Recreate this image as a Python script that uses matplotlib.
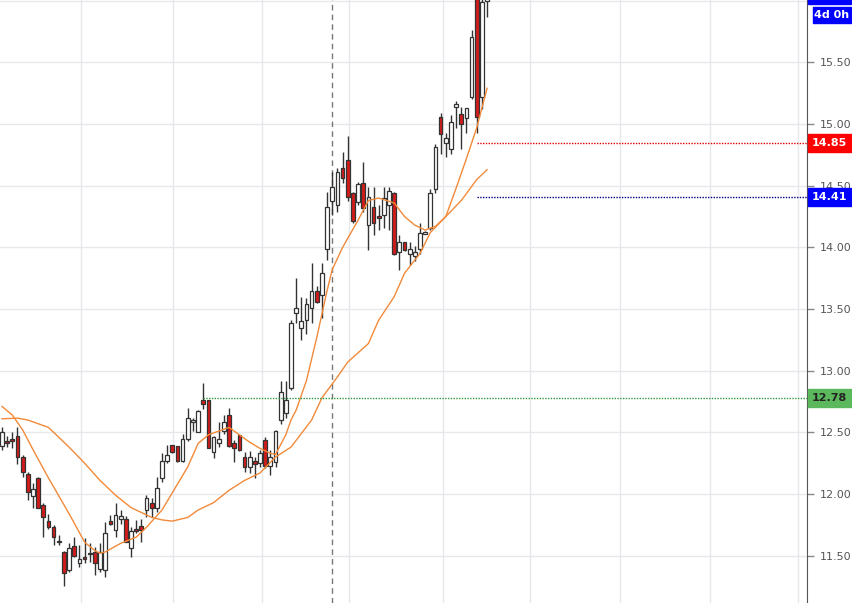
import matplotlib
matplotlib.use("Agg")
import matplotlib.pyplot as plt
from matplotlib.patches import Rectangle
from matplotlib.transforms import blended_transform_factory

# daily candles, oldest first
opens = [12.39, 12.43, 12.44, 12.47, 12.30, 12.16, 11.98, 12.13, 11.91, 11.78,
         11.73, 11.62, 11.53, 11.38, 11.58, 11.44, 11.49, 11.52, 11.53, 11.39,
         11.38, 11.78, 11.71, 11.80, 11.80, 11.56, 11.72, 11.74, 11.87, 11.93,
         11.89, 12.13, 12.27, 12.40, 12.39, 12.27, 12.45, 12.58, 12.50, 12.76,
         12.76, 12.34, 12.41, 12.51, 12.64, 12.41, 12.48, 12.30, 12.22, 12.27,
         12.25, 12.44, 12.23, 12.26, 12.60, 12.66, 12.86, 13.47, 13.35, 13.41,
         13.51, 13.65, 13.61, 13.99, 14.38, 14.34, 14.64, 14.71, 14.44, 14.37,
         14.52, 14.18, 14.33, 14.25, 14.26, 14.34, 14.44, 13.96, 14.04, 13.95,
         13.93, 13.99, 14.11, 14.16, 14.47, 15.06, 14.85, 14.80, 15.14, 15.08,
         15.05, 15.22, 16.15, 15.22, 16.00]
highs = [12.54, 12.47, 12.50, 12.54, 12.32, 12.18, 12.09, 12.14, 11.93, 11.84,
         11.75, 11.67, 11.54, 11.60, 11.65, 11.59, 11.64, 11.60, 11.57, 11.60,
         11.77, 11.83, 11.93, 11.87, 11.82, 11.73, 11.79, 11.80, 11.99, 11.97,
         12.14, 12.33, 12.40, 12.40, 12.39, 12.49, 12.70, 12.62, 12.68, 12.90,
         12.76, 12.47, 12.58, 12.64, 12.70, 12.44, 12.48, 12.34, 12.35, 12.30,
         12.36, 12.46, 12.36, 12.52, 12.92, 12.92, 13.41, 13.75, 13.60, 13.59,
         13.87, 13.69, 13.87, 14.45, 14.61, 14.64, 14.77, 14.90, 14.45, 14.53,
         14.69, 14.49, 14.49, 14.34, 14.49, 14.49, 14.45, 14.10, 14.04, 14.04,
         14.01, 14.20, 14.13, 14.47, 14.84, 15.09, 14.93, 15.07, 15.19, 15.14,
         15.13, 15.76, 16.20, 16.10, 16.30]
lows = [12.36, 12.38, 12.37, 12.24, 12.14, 11.95, 11.89, 11.89, 11.65, 11.72,
        11.59, 11.59, 11.25, 11.37, 11.49, 11.41, 11.44, 11.45, 11.34, 11.37,
        11.33, 11.75, 11.65, 11.76, 11.61, 11.49, 11.68, 11.61, 11.81, 11.81,
        11.85, 12.10, 12.25, 12.33, 12.26, 12.26, 12.43, 12.51, 12.50, 12.69,
        12.37, 12.29, 12.38, 12.49, 12.38, 12.26, 12.35, 12.18, 12.17, 12.13,
        12.22, 12.21, 12.15, 12.22, 12.57, 12.62, 12.84, 13.39, 13.25, 13.30,
        13.39, 13.55, 13.43, 13.90, 14.26, 14.29, 14.52, 14.38, 14.20, 14.34,
        14.29, 13.98, 14.10, 14.14, 14.16, 14.14, 13.94, 13.82, 13.97, 13.86,
        13.89, 13.95, 14.11, 14.14, 14.44, 14.76, 14.73, 14.76, 14.97, 14.80,
        14.93, 15.20, 14.93, 15.12, 15.87]
closes = [12.50, 12.41, 12.43, 12.30, 12.18, 12.02, 12.04, 11.89, 11.81, 11.73,
          11.65, 11.61, 11.36, 11.56, 11.50, 11.47, 11.47, 11.51, 11.44, 11.53,
          11.68, 11.76, 11.83, 11.82, 11.61, 11.70, 11.70, 11.71, 11.97, 11.89,
          12.05, 12.27, 12.32, 12.34, 12.27, 12.45, 12.62, 12.60, 12.67, 12.73,
          12.37, 12.46, 12.45, 12.58, 12.39, 12.37, 12.36, 12.22, 12.30, 12.24,
          12.33, 12.23, 12.30, 12.51, 12.83, 12.76, 13.39, 13.51, 13.40, 13.54,
          13.65, 13.56, 13.79, 14.33, 14.49, 14.61, 14.56, 14.41, 14.21, 14.51,
          14.32, 14.41, 14.20, 14.24, 14.40, 14.46, 13.95, 14.04, 13.98, 13.99,
          13.96, 14.12, 14.12, 14.44, 14.81, 14.92, 14.89, 15.02, 15.16, 15.00,
          15.13, 15.71, 15.06, 15.99, 16.06]

# moving averages (candle index, price)
fast_idx = [0, 2, 4, 6, 9, 13, 16, 18, 19, 20, 23, 26, 28, 31, 33, 36, 38, 40,
            44, 46, 48, 50, 52, 53, 55, 56, 57, 59, 61, 63, 64, 66, 69, 71, 73,
            76, 78, 80, 82, 84, 86, 88, 90, 92, 94]
fast_val = [12.71, 12.64, 12.52, 12.36, 12.13, 11.84, 11.61, 11.54, 11.52, 11.53,
            11.60, 11.65, 11.73, 11.87, 12.01, 12.22, 12.41, 12.48, 12.54, 12.48,
            12.42, 12.37, 12.33, 12.32, 12.48, 12.60, 12.68, 12.92, 13.27, 13.65,
            13.82, 14.00, 14.22, 14.38, 14.40, 14.36, 14.25, 14.18, 14.14, 14.17,
            14.25, 14.48, 14.72, 14.97, 15.29]
slow_idx = [0, 3, 5, 9, 13, 16, 19, 22, 25, 29, 31, 33, 36, 38, 41, 44, 47, 50,
            53, 56, 60, 62, 65, 67, 71, 73, 76, 78, 81, 83, 86, 89, 92, 94]
slow_val = [12.61, 12.615, 12.60, 12.54, 12.38, 12.25, 12.11, 11.99, 11.89, 11.81,
            11.79, 11.78, 11.81, 11.87, 11.93, 12.03, 12.11, 12.17, 12.30, 12.38,
            12.60, 12.78, 12.95, 13.07, 13.22, 13.41, 13.60, 13.79, 13.95, 14.12,
            14.25, 14.38, 14.55, 14.63]

levels = [14.85, 14.41, 12.78]
level_start = [92, 92, 39]
level_colors = ["#dd0000", "#000080", "#2e9a3e"]
box_colors = ["#ff0000", "#0000ff", "#5cb85c"]
box_text = ["white", "white", "#222222"]

price_ticks = [11.5, 12.0, 12.5, 13.0, 13.5, 14.0, 14.5, 15.0, 15.5]
grid_prices = [11.5, 12.0, 12.5, 13.0, 13.5, 14.0, 14.5, 15.0, 15.5, 16.0]
grid_x = [15.3, 33.1, 50.4, 67.2, 85.5, 102.3, 119.8, 137.2, 154.3]
marker_x = 64
last_price = 16.05
countdown = "4d 0h"

W, H = 853, 603
fig = plt.figure(figsize=(W / 100, H / 100), dpi=100)
ax = fig.add_axes([0, 0, 807 / W, 1])
ax.set_xlim(-0.39, 156.0)
ax.set_ylim(11.116, 16.006)

for p in grid_prices:
    ax.axhline(p, color="#e6e9ec", lw=1, zorder=0)
for gx in grid_x:
    ax.axvline(gx, color="#e6e9ec", lw=1, zorder=0)

ax.axvline(marker_x, color="#777777", lw=1, ls=(0, (4, 3)), zorder=1)

# candles
for i in range(len(opens)):
    o, h, l, c = opens[i], highs[i], lows[i], closes[i]
    ax.vlines(i, l, h, color="#333333", lw=1, zorder=2)
    up = c >= o
    body = max(abs(c - o), 0.012)
    ax.bar(i, body, bottom=min(o, c), width=0.72,
           color="white" if up else "#d51a1a", edgecolor="#333333",
           linewidth=0.9, zorder=3)

ax.plot(fast_idx, fast_val, color="#f28a3a", lw=1.0, zorder=4)
ax.plot(slow_idx, slow_val, color="#f28a3a", lw=1.0, zorder=4)

for val, start, col in zip(levels, level_start, level_colors):
    ax.plot([start, 156.0], [val, val], color=col, lw=1, ls=(0, (1, 1)), zorder=4)

# right price axis
ax.yaxis.tick_right()
ax.set_yticks(price_ticks)
ax.set_yticklabels([f"{p:.2f}" for p in price_ticks])
ax.tick_params(axis="y", length=5, width=1, color="#888888",
               labelcolor="#555555", labelsize=8, pad=4)
ax.set_xticks([])
for s in ["top", "left", "bottom"]:
    ax.spines[s].set_visible(False)
ax.spines["right"].set_color("#555555")

trans = blended_transform_factory(fig.transFigure, ax.transData)
for val, col, tcol in zip(levels, box_colors, box_text):
    ax.add_patch(Rectangle((808 / W, val - 0.073), 43 / W, 0.146, transform=trans,
                           color=col, clip_on=False, zorder=6))
    ax.text(829.5 / W, val, f"{val:.2f}", transform=trans, ha="center",
            va="center", color=tcol, fontsize=8, fontweight="bold",
            zorder=7, clip_on=False)

# current price box (cut off at the top) and countdown box
fig.patches.append(Rectangle((808 / W, (H - 4) / H), 43 / W, 20 / H,
                             transform=fig.transFigure, color="#0000ff", zorder=6))
fig.text(829.5 / W, (H + 6) / H, f"{last_price:.2f}", ha="center", va="center",
         color="white", fontsize=8, fontweight="bold", zorder=7)
fig.patches.append(Rectangle((813 / W, (H - 23) / H), 38 / W, 16 / H,
                             transform=fig.transFigure, color="#0000ff", zorder=6))
fig.text(832 / W, (H - 15) / H, countdown, ha="center", va="center",
         color="white", fontsize=8, fontweight="bold", zorder=7)

fig.savefig("out.png", dpi=100)
